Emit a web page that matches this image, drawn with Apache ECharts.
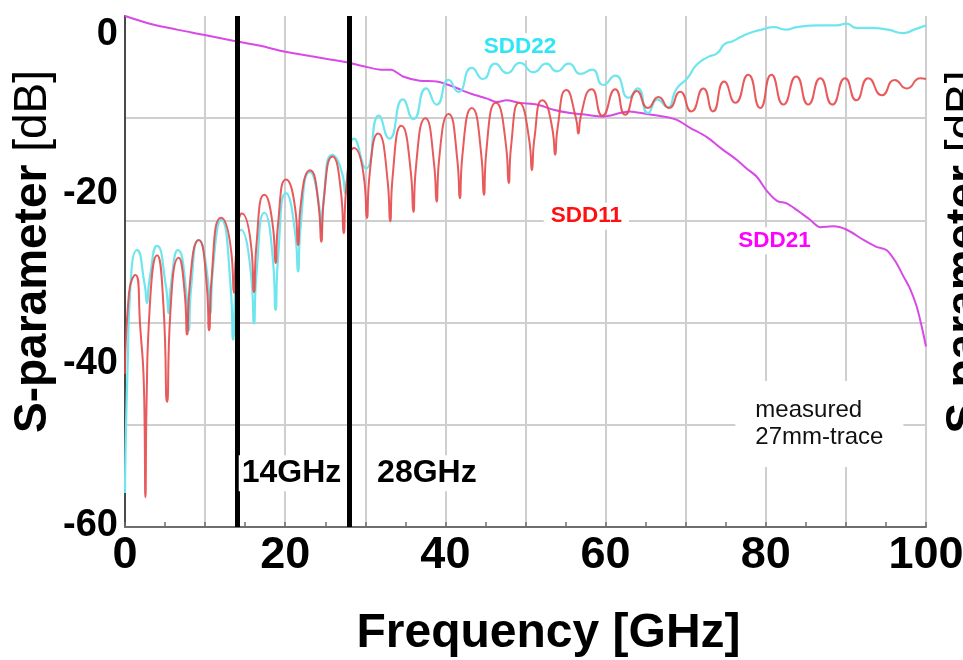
<!DOCTYPE html>
<html>
<head>
<meta charset="utf-8">
<script src="https://cdn.jsdelivr.net/npm/echarts@6/dist/echarts.min.js"></script>
<style>
html,body{margin:0;padding:0;background:#fff;}
#chart{width:963px;height:660px;}
</style>
</head>
<body>
<div id="chart"></div>
<script>
// ---- data ----
const xTitle = 'Frequency [GHz]';
const yTitleBold = 'S-parameter';
const yTitleUnit = ' [dB]';
const markerFreqs = [14, 28];
const markerNames = ['14GHz', '28GHz'];

// SDD11 (red) [GHz, dB]
const sdd11 = [
 [0,-42],[0.5,-32.5],[1.3,-30.4],[1.9,-36.5],[2.4,-45],[2.55,-56.5],[2.7,-45],[3.1,-34],
 [4.0,-28.1],[4.8,-34],[5.25,-45.3],[5.65,-35],
 [6.7,-28.4],[7.45,-32.5],[7.75,-37.4],[8.05,-32],
 [9.2,-26.3],[10.2,-31.5],[10.5,-36.9],[10.8,-31],
 [12.0,-23.7],[13.3,-28],[13.6,-32.5],[13.9,-27.5],
 [14.6,-23.2],[15.8,-27.5],[16.1,-32.4],[16.4,-27],
 [17.4,-21.0],[18.5,-25],[18.8,-29.0],[19.1,-24.5],
 [20.1,-19.2],[21.3,-23],[21.6,-26.9],[21.9,-22.5],
 [23.1,-18.1],[24.2,-22.5],[24.5,-26.5],[24.8,-21.8],
 [25.9,-16.5],[27.0,-21],[27.3,-25.5],[27.6,-20.5],
 [28.6,-15.5],[29.9,-19.5],[30.2,-23.7],[30.5,-19.0],
 [31.6,-13.8],[32.8,-19.5],[33.1,-24.1],[33.4,-19.0],
 [34.5,-12.9],[35.7,-18.5],[36.0,-23.0],[36.3,-18.0],
 [37.5,-12.0],[38.6,-17.5],[38.9,-21.8],[39.2,-17.0],
 [40.4,-11.5],[41.5,-17.0],[41.8,-21.4],[42.1,-16.6],
 [43.3,-10.8],[44.5,-16.5],[44.8,-21.0],[45.1,-16.0],
 [46.3,-10.2],[47.6,-15.5],[47.9,-19.6],[48.2,-15.3],
 [49.2,-10.2],[50.5,-14.8],[50.8,-18.1],[51.1,-14.5],
 [52.1,-9.9],[53.4,-13.5],[53.7,-16.3],[54.0,-13.2],
 [55.1,-8.7],[56.3,-12.0],[56.6,-13.8],[56.9,-11.8],
 [58.3,-8.6],[59.6,-11.7],[61.2,-8.6],[62.45,-11.6],[63.9,-8.8],[65.3,-10.8],
 [66.6,-9.5],[67.9,-10.8],[69.3,-8.9],[70.7,-11.2],[72.2,-8.5],[73.4,-11.2],
 [74.8,-7.7],[76.2,-10.2],[77.8,-6.9],[79.3,-10.8],[80.7,-6.9],[82.2,-10.4],
 [83.8,-7.1],[85.3,-10.4],[86.8,-7.3],[88.3,-10.4],[89.9,-7.3],[91.3,-9.9],
 [92.8,-7.3],[94.5,-9.3],[96.1,-7.5],[97.6,-8.5],[99.3,-7.3],[100,-7.4]
];

// SDD22 (cyan) [GHz, dB]
const sdd22 = [
 [0,-56],[0.3,-42],[0.8,-30],[1.5,-27.5],[2.45,-31.5],[2.75,-33.7],[3.05,-31],
 [4.0,-27.0],[5.15,-32],[5.45,-34.9],[5.75,-31.5],
 [6.6,-27.5],[7.65,-32.5],[7.95,-36.9],[8.25,-32],
 [9.2,-26.3],[10.35,-31],[10.65,-34.9],[10.95,-30],
 [12.0,-23.9],[13.2,-32],[13.5,-38.0],[13.8,-32],
 [14.5,-25.1],[15.8,-31],[16.1,-36.1],[16.4,-30.5],
 [17.4,-23.1],[18.5,-29],[18.8,-34.5],[19.1,-28.5],
 [20.1,-20.8],[21.3,-26],[21.6,-30.0],[21.9,-25],
 [23.1,-18.3],[24.2,-22],[24.5,-25.3],[24.8,-21.5],
 [25.9,-16.3],[27.2,-18.8],[27.5,-20.8],[27.8,-18.5],
 [28.6,-14.4],[30.1,-17.9],[31.7,-11.7],[33.0,-14.4],[34.7,-9.8],[36.0,-12.1],
 [37.6,-8.5],[38.9,-10.4],[40.4,-7.5],[41.6,-8.9],[43.3,-6.1],[44.7,-7.4],
 [46.2,-5.6],[47.7,-6.7],[49.3,-5.5],[51.0,-6.6],[52.6,-5.6],[53.9,-6.5],
 [55.4,-5.6],[56.9,-6.8],[58.3,-6.3],[59.7,-8.1],[61.2,-7.0],[62.9,-9.6],
 [64.0,-8.5],[65.3,-11.4],[66.5,-9.8],[67.7,-10.7],[68.9,-8.5],[70.2,-7.3],
 [71.4,-5.7],[72.8,-4.8],[73.9,-4.4],[75.0,-3.2],[75.8,-3.0],[76.8,-2.5],
 [78.0,-2.0],[79.5,-1.6],[81.0,-1.3],[82.5,-1.6],[83.9,-1.3],[86.6,-1.1],
 [88.8,-1.1],[90.1,-0.9],[91.3,-1.4],[93.0,-1.4],[95.2,-1.6],[97.2,-2.0],
 [98.5,-1.6],[100,-1.1]
];

// SDD21 (magenta) [GHz, dB]
const sdd21 = [
 [0,0],[3.1,-0.9],[6.5,-1.6],[9.8,-2.2],[13.5,-2.9],[16.9,-3.5],[20.0,-4.2],
 [23.1,-4.7],[25.6,-5.1],[27.5,-5.4],[29.8,-5.9],[32.0,-6.3],[33.2,-6.3],
 [34.7,-7.1],[36.8,-7.6],[38.9,-7.7],[41.0,-8.3],[43.1,-9.1],[45.2,-9.7],
 [46.4,-10.1],[47.6,-9.9],[49.3,-10.2],[51.4,-10.4],[53.5,-11.0],[55.6,-11.4],
 [57.6,-11.6],[59.7,-11.8],[61.8,-11.4],[63.0,-11.2],[65.1,-11.5],[67.2,-11.8],
 [68.9,-12.2],[70.5,-13.1],[72.6,-14.2],[74.5,-15.6],[76.4,-16.9],[77.6,-17.9],
 [78.9,-18.9],[80.1,-20.5],[81.4,-21.7],[82.6,-22.0],[83.9,-22.8],[85.5,-23.9],
 [86.8,-24.8],[88.4,-24.7],[90.1,-25.1],[92.2,-26.3],[93.8,-27.1],[95.1,-27.5],
 [96.3,-29.0],[97.2,-30.6],[98.0,-32.0],[98.8,-34.0],[99.4,-36.2],[100,-38.8]
];

// annotation anchors [GHz, dB]
const seriesLabels = [
 {text:'SDD22', at:[49.3,-3.6], color:'#2ee6f5'},
 {text:'SDD11', at:[57.6,-23.5], color:'#ff1010'},
 {text:'SDD21', at:[81.1,-26.4], color:'#ff00ff'}
];
const markerTextAt = [[14.2,-53.7],[31.1,-53.7]];
const noteText = 'measured\n27mm-trace';
const noteAt = [76.2,-47.9];

const FONT = '"Liberation Sans", Arial, Helvetica, sans-serif';
const yLabelFont = {fontFamily:FONT, fontWeight:'bold', fontSize:38, color:'#000'};

const chart = echarts.init(document.getElementById('chart'), null, {renderer:'canvas'});

const option = {
  backgroundColor:'#fff',
  animation:false,
  grid:{left:125, right:37, top:16, bottom:133, containLabel:false, outerBoundsMode:'none'},
  xAxis:{
    type:'value', min:0, max:100, interval:10,
    name:xTitle, nameLocation:'middle', nameGap:83,
    nameTextStyle:{fontFamily:FONT, fontWeight:'bold', fontSize:48, color:'#000', padding:[0,0,0,46]},
    axisLine:{show:true, onZero:false, lineStyle:{color:'#6e6e6e', width:2}},
    axisTick:{show:true, inside:true, length:5, lineStyle:{color:'#6e6e6e', width:1.5}},
    minorTick:{show:true, splitNumber:2, length:5, lineStyle:{color:'#6e6e6e', width:1.5}},
    axisLabel:{
      formatter:function(v){return v % 20 === 0 ? String(v) : '';},
      fontFamily:FONT, fontWeight:'bold', fontSize:45, color:'#000', margin:6
    },
    splitLine:{show:true, lineStyle:{color:'#cfcfcf', width:2}}
  },
  yAxis:[{
    type:'value', min:-60, max:0, interval:12,
    name:'{b|' + yTitleBold + '}{n|' + yTitleUnit + '}',
    nameLocation:'middle', nameGap:69,
    nameTextStyle:{
      padding:[0,0,0,40],
      rich:{
        b:{fontFamily:FONT, fontWeight:'bold', fontSize:46, color:'#000'},
        n:{fontFamily:FONT, fontWeight:'normal', fontSize:46, color:'#000'}
      }
    },
    axisLine:{show:true, onZero:false, lineStyle:{color:'#4a4a4a', width:2}},
    axisTick:{show:false},
    axisLabel:{show:false},
    splitLine:{show:true, showMaxLine:false, lineStyle:{color:'#cfcfcf', width:2}}
  },{
    type:'value', min:-60, max:0, interval:20, position:'left',
    axisLine:{show:false}, axisTick:{show:false}, splitLine:{show:false},
    axisLabel:Object.assign({
      margin:7, verticalAlignMaxLabel:'top',
      formatter:function(v){
        if (v === 0) return '{z|0}';
        if (v === -60) return '{e|-60}';
        return '{m|' + v + '}';
      },
      rich:{
        z:Object.assign({}, yLabelFont),
        m:Object.assign({padding:[14,0,0,0]}, yLabelFont),
        e:Object.assign({padding:[0,0,3,0]}, yLabelFont)
      }
    }, yLabelFont)
  }],
  graphic:[{
    type:'text', x:988, y:252, rotation:Math.PI/2,
    style:{
      text:'{b|' + yTitleBold + '}{n|' + yTitleUnit + '}',
      align:'center', verticalAlign:'bottom',
      rich:{
        b:{fontFamily:FONT, fontWeight:'bold', fontSize:46, fill:'#000'},
        n:{fontFamily:FONT, fontWeight:'normal', fontSize:46, fill:'#000'}
      }
    }
  }],
  series:[
    {
      name:'SDD21', type:'line', data:sdd21, showSymbol:false, smooth:0.3,
      lineStyle:{color:'#d84ae6', width:2}, z:2
    },
    {
      name:'SDD22', type:'line', data:sdd22, showSymbol:false, smooth:0.6,
      lineStyle:{color:'#6fe6ee', width:2.2}, z:3
    },
    {
      name:'SDD11', type:'line', data:sdd11, showSymbol:false, smooth:0.6,
      lineStyle:{color:'#e5484a', width:2, opacity:0.9}, z:4
    },
    {
      name:'markers', type:'line', data:[], z:10,
      markLine:{
        silent:true, symbol:['none','none'], animation:false,
        label:{show:false},
        lineStyle:{color:'#000', width:5, type:'solid'},
        data:markerFreqs.map(function(f){return {xAxis:f};})
      },
      markPoint:{
        silent:true, symbol:'circle', symbolSize:0, animation:false,
        data:
          markerNames.map(function(t,i){
            return {coord:markerTextAt[i], value:t,
              label:{show:true, position:'inside', align:'left', formatter:t,
                fontFamily:FONT, fontWeight:'bold', fontSize:32, color:'#000',
                backgroundColor:'#fff', padding:[2,3]}};
          }).concat(seriesLabels.map(function(s){
            return {coord:s.at, value:s.text,
              label:{show:true, position:'inside', formatter:s.text,
                fontFamily:FONT, fontWeight:'bold', fontSize:22.5, color:s.color,
                backgroundColor:'#fff', padding:[2,7]}};
          })).concat([{coord:noteAt, value:0,
              label:{show:true, position:'inside', align:'left', formatter:noteText,
                fontFamily:FONT, fontWeight:'normal', fontSize:24, lineHeight:27, color:'#111',
                backgroundColor:'#fff', padding:[16,20,16,20]}}])
      }
    }
  ]
};
chart.setOption(option);
</script>
</body>
</html>
